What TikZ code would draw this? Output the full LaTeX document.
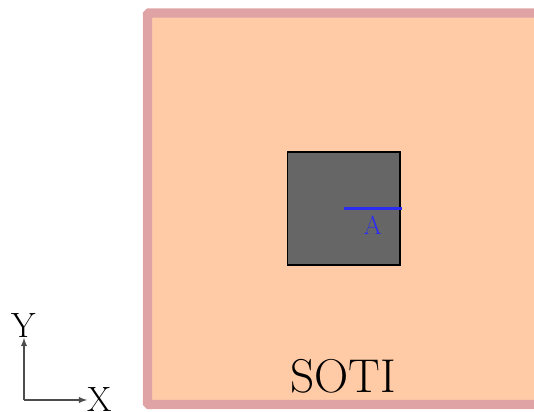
\documentclass[tikz,border=0pt]{standalone}
\usepackage{tikz}
\usetikzlibrary{arrows.meta, positioning, calc}
\definecolor{peach}{HTML}{FFCBA6}
\definecolor{rim}{HTML}{DFA3A6}
\definecolor{hole}{HTML}{666666}
\definecolor{probe}{HTML}{2B2BF2}

\begin{document}
\begin{tikzpicture}[>=latex,
    slab/.style={draw=rim, fill=peach, line width=5.2pt, rounded corners=0.8pt},
    defect/.style={draw=black, fill=hole, line width=0.9pt, minimum size=2.25cm, inner sep=0pt},
    axis/.style={->, draw=black!70, line width=0.6pt},
    axlabel/.style={font=\fontsize{20}{22}\selectfont, inner sep=1pt}
]
    \useasboundingbox (0,0) rectangle (10.68,8.24);
    % sample
    \draw[slab] (2.95,0.15) rectangle (10.78,7.98);
    \node[font=\fontsize{27}{30}\selectfont] (soti) at (6.86,0.72) {SOTI};
    \node[defect] (sq) at (6.875,4.07) {};
    \coordinate (cut) at (8.04,4.07);
    \draw[probe, line width=1.2pt] (sq.center) -- (cut);
    \node[probe, font=\fontsize{15}{17}\selectfont, below=0.03cm of $(sq.center)!0.5!(cut)$] (a) {A};
    % axes
    \coordinate (o) at (0.48,0.24);
    \coordinate (ytip) at (0.48,1.48);
    \coordinate (xtip) at (1.74,0.24);
    \draw[axis] (o) -- (ytip);
    \draw[axis] (o) -- (xtip);
    \node[axlabel, above=-1pt of ytip] (ylab) {Y};
    \node[axlabel, right=-1pt of xtip] (xlab) {X};
\end{tikzpicture}
\end{document}
